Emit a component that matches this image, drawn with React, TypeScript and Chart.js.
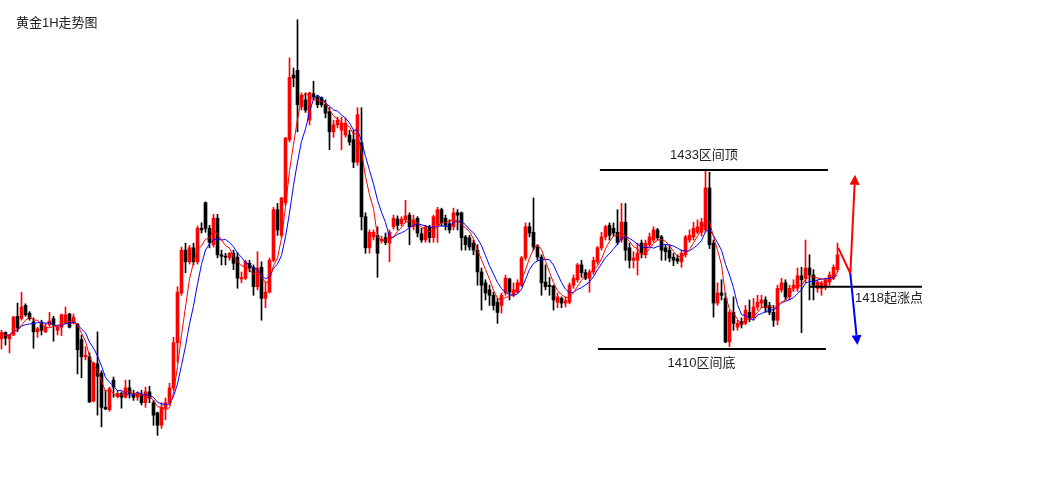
import React, { useEffect, useRef } from "react";
import { Chart, registerables } from "chart.js";

Chart.register(...registerables);

// Gold, 1-hour candles (oldest first)
const opens = [
  1411.3, 1412.1, 1411.3, 1411.8, 1414.2, 1413.9, 1415.6, 1414.6, 1413.5, 1412.2,
  1413.3, 1412.2, 1413.1, 1413.9, 1412.4, 1412.8, 1413.3, 1414.5, 1413.3, 1413.2,
  1411.2, 1409.0, 1409.0, 1403.3, 1408.1, 1406.9, 1402.5, 1402.2, 1406.0, 1403.9,
  1404.3, 1403.8, 1405.0, 1404.3, 1403.8, 1404.1, 1403.1, 1404.5, 1403.1, 1401.8,
  1400.2, 1402.4, 1403.1, 1405.0, 1410.8, 1417.2, 1422.7, 1421.2, 1423.0, 1421.2,
  1425.5, 1428.8, 1425.5, 1423.4, 1426.8, 1422.1, 1421.9, 1421.7, 1422.3, 1421.8,
  1419.0, 1419.1, 1421.0, 1420.5, 1418.0, 1420.5, 1416.5, 1417.3, 1421.4, 1427.9,
  1424.6, 1428.8, 1436.9, 1445.2, 1445.8, 1441.1, 1442.0, 1439.4, 1442.8, 1442.4,
  1442.3, 1441.4, 1440.5, 1437.9, 1438.8, 1438.1, 1437.5, 1437.5, 1436.9, 1434.0,
  1436.5, 1427.0, 1423.0, 1424.4, 1424.6, 1423.9, 1424.3, 1423.6, 1425.7, 1426.7,
  1426.1, 1426.6, 1427.2, 1425.7, 1426.8, 1424.8, 1424.0, 1425.7, 1424.3, 1425.9,
  1427.9, 1426.8, 1426.1, 1425.7, 1427.5, 1427.5, 1424.4, 1424.3, 1423.6, 1422.7,
  1419.9, 1418.5, 1417.6, 1416.9, 1416.0, 1415.6, 1417.2, 1419.0, 1416.9, 1417.3,
  1418.2, 1421.7, 1425.7, 1425.0, 1423.1, 1421.8, 1418.6, 1418.2, 1418.1, 1416.0,
  1416.5, 1415.9, 1416.0, 1418.2, 1418.9, 1420.8, 1419.8, 1419.1, 1419.9, 1421.2,
  1423.0, 1424.4, 1425.9, 1425.5, 1425.0, 1424.0, 1426.3, 1423.0, 1421.4, 1421.4,
  1423.6, 1422.1, 1423.4, 1424.0, 1425.3, 1424.4, 1423.0, 1422.7, 1421.8, 1421.6,
  1421.2, 1422.1, 1424.0, 1424.4, 1425.0, 1425.0, 1425.3, 1430.7, 1423.6, 1415.9,
  1417.2, 1416.5, 1410.9, 1414.7, 1412.8, 1413.5, 1413.3, 1414.7, 1414.0, 1415.4,
  1415.9, 1416.3, 1415.6, 1414.7, 1413.7, 1417.6, 1418.5, 1416.7, 1417.8, 1417.8,
  1419.4, 1419.1, 1420.4, 1419.5, 1417.8, 1417.8, 1418.0, 1418.6, 1419.1, 1420.2,
];

const highs = [
  1412.4, 1412.2, 1411.9, 1414.2, 1415.9, 1417.3, 1415.8, 1414.8, 1414.0, 1412.8,
  1413.7, 1413.3, 1414.7, 1414.2, 1413.1, 1414.5, 1415.4, 1414.6, 1414.5, 1413.3,
  1411.8, 1410.3, 1409.5, 1408.3, 1412.2, 1407.2, 1404.7, 1405.1, 1406.4, 1404.7,
  1404.5, 1406.0, 1406.0, 1404.7, 1404.5, 1404.7, 1405.1, 1405.2, 1403.4, 1401.9,
  1403.1, 1403.7, 1405.6, 1411.5, 1418.0, 1423.1, 1423.6, 1423.3, 1423.6, 1425.8,
  1426.2, 1428.9, 1425.9, 1427.3, 1427.3, 1422.7, 1422.3, 1422.4, 1422.7, 1422.4,
  1419.9, 1421.4, 1421.4, 1420.8, 1422.5, 1421.2, 1418.6, 1421.7, 1428.2, 1428.7,
  1429.5, 1437.2, 1447.4, 1446.1, 1452.3, 1442.9, 1442.9, 1443.0, 1444.4, 1442.6,
  1442.4, 1442.0, 1441.0, 1439.4, 1439.8, 1439.8, 1439.7, 1438.1, 1438.1, 1441.0,
  1441.0, 1427.5, 1425.3, 1425.3, 1425.7, 1424.5, 1424.9, 1425.3, 1427.2, 1427.1,
  1427.0, 1429.1, 1427.5, 1427.2, 1427.0, 1425.5, 1425.9, 1425.9, 1427.2, 1428.2,
  1428.1, 1427.2, 1426.6, 1428.1, 1427.9, 1427.6, 1424.6, 1424.6, 1424.0, 1423.4,
  1420.4, 1418.9, 1418.2, 1417.3, 1416.5, 1417.2, 1419.5, 1419.1, 1418.5, 1418.9,
  1421.9, 1426.2, 1426.2, 1429.4, 1423.4, 1422.1, 1420.8, 1419.2, 1418.2, 1417.2,
  1416.7, 1416.7, 1418.5, 1419.5, 1421.0, 1421.4, 1420.2, 1420.2, 1421.8, 1423.2,
  1425.0, 1425.9, 1426.2, 1426.2, 1427.9, 1428.7, 1428.7, 1423.6, 1422.5, 1423.6,
  1424.0, 1424.0, 1424.9, 1425.7, 1425.5, 1424.6, 1423.4, 1423.4, 1422.3, 1422.1,
  1422.7, 1424.6, 1425.3, 1426.3, 1426.6, 1426.8, 1433.0, 1432.7, 1424.0, 1418.5,
  1418.9, 1417.2, 1415.0, 1416.7, 1413.7, 1414.0, 1415.6, 1416.3, 1416.5, 1416.9,
  1416.9, 1416.7, 1416.0, 1415.6, 1418.2, 1419.1, 1418.9, 1418.2, 1418.9, 1420.4,
  1420.5, 1424.0, 1422.1, 1420.2, 1418.9, 1418.7, 1419.1, 1419.9, 1420.8, 1423.6,
];

const lows = [
  1410.0, 1410.5, 1409.5, 1411.7, 1412.2, 1413.7, 1414.2, 1413.7, 1410.1, 1411.5,
  1411.8, 1412.1, 1412.9, 1411.0, 1411.8, 1411.7, 1413.2, 1412.7, 1413.2, 1406.8,
  1406.3, 1408.6, 1403.1, 1403.2, 1401.5, 1400.0, 1402.2, 1402.0, 1403.8, 1403.7,
  1402.4, 1403.7, 1403.7, 1403.4, 1403.4, 1402.8, 1402.5, 1403.1, 1400.2, 1398.9,
  1399.8, 1400.9, 1402.8, 1404.7, 1408.3, 1416.9, 1419.8, 1420.9, 1420.8, 1420.9,
  1424.9, 1425.0, 1423.0, 1423.1, 1421.7, 1420.8, 1420.8, 1421.4, 1420.2, 1417.8,
  1418.5, 1418.9, 1419.9, 1416.9, 1417.6, 1413.7, 1415.3, 1417.2, 1421.2, 1424.6,
  1424.3, 1428.5, 1436.6, 1443.7, 1437.9, 1440.7, 1440.4, 1438.8, 1442.0, 1441.0,
  1441.1, 1439.7, 1435.6, 1437.2, 1438.4, 1435.6, 1437.2, 1436.2, 1433.3, 1433.6,
  1425.3, 1422.3, 1422.3, 1424.0, 1419.2, 1423.6, 1423.4, 1421.2, 1425.4, 1425.3,
  1425.8, 1426.3, 1423.4, 1425.3, 1424.4, 1423.7, 1423.7, 1423.7, 1423.7, 1423.7,
  1425.8, 1425.3, 1424.9, 1425.3, 1425.3, 1422.7, 1422.7, 1422.7, 1422.1, 1418.2,
  1415.0, 1416.3, 1415.6, 1415.0, 1413.3, 1414.6, 1416.9, 1416.3, 1416.7, 1417.2,
  1418.0, 1421.4, 1424.4, 1422.7, 1421.4, 1416.9, 1417.6, 1416.9, 1415.0, 1415.3,
  1415.3, 1415.4, 1415.8, 1417.8, 1418.6, 1419.2, 1418.9, 1417.3, 1419.6, 1420.9,
  1422.7, 1424.0, 1424.0, 1424.5, 1423.4, 1423.7, 1421.4, 1420.4, 1420.4, 1419.5,
  1421.7, 1421.7, 1423.1, 1423.7, 1424.0, 1421.4, 1421.4, 1421.2, 1420.7, 1421.0,
  1420.5, 1421.8, 1423.7, 1424.0, 1424.8, 1424.5, 1425.0, 1422.9, 1414.1, 1415.6,
  1416.3, 1410.8, 1410.3, 1412.4, 1412.4, 1412.7, 1413.1, 1413.5, 1413.7, 1415.0,
  1415.3, 1414.7, 1414.4, 1412.9, 1413.1, 1417.3, 1416.3, 1416.3, 1417.4, 1417.4,
  1412.1, 1418.5, 1416.3, 1416.3, 1417.3, 1416.9, 1417.6, 1418.2, 1418.9, 1419.9,
];

const closes = [
  1412.1, 1411.4, 1411.8, 1414.1, 1412.7, 1415.4, 1414.4, 1413.9, 1412.2, 1412.6,
  1412.4, 1412.8, 1413.6, 1413.1, 1412.8, 1414.4, 1414.4, 1412.8, 1414.1, 1409.9,
  1409.0, 1409.2, 1403.2, 1408.2, 1406.5, 1402.5, 1402.3, 1404.9, 1405.1, 1404.3,
  1403.8, 1405.0, 1404.3, 1403.8, 1404.3, 1403.1, 1404.5, 1403.7, 1401.5, 1400.2,
  1402.5, 1403.1, 1405.0, 1410.8, 1417.3, 1422.7, 1421.2, 1423.0, 1421.2, 1425.5,
  1425.3, 1425.5, 1423.7, 1426.8, 1422.1, 1421.9, 1421.8, 1422.3, 1421.0, 1419.1,
  1419.2, 1421.2, 1420.4, 1418.0, 1420.4, 1416.5, 1417.3, 1421.4, 1427.9, 1425.3,
  1429.4, 1437.1, 1444.9, 1444.8, 1441.4, 1442.6, 1440.7, 1442.9, 1442.4, 1441.4,
  1441.4, 1440.3, 1437.9, 1438.8, 1439.4, 1439.0, 1439.0, 1436.6, 1434.0, 1440.1,
  1427.0, 1423.0, 1425.0, 1425.0, 1422.3, 1424.1, 1423.7, 1425.0, 1426.8, 1425.9,
  1426.7, 1427.1, 1425.7, 1426.6, 1424.9, 1424.0, 1425.7, 1424.3, 1427.0, 1427.9,
  1426.2, 1425.9, 1425.3, 1427.5, 1427.2, 1424.3, 1423.4, 1423.1, 1422.7, 1419.9,
  1418.2, 1417.2, 1416.9, 1415.6, 1414.7, 1416.9, 1419.1, 1417.3, 1417.6, 1418.5,
  1421.7, 1425.7, 1424.9, 1423.1, 1421.8, 1418.5, 1418.0, 1418.0, 1416.3, 1416.7,
  1415.9, 1416.2, 1418.2, 1419.1, 1420.8, 1419.8, 1419.1, 1419.9, 1421.4, 1423.0,
  1424.4, 1425.7, 1424.6, 1424.9, 1423.7, 1426.3, 1422.7, 1421.4, 1421.7, 1422.3,
  1422.3, 1423.6, 1424.4, 1425.3, 1424.3, 1422.7, 1422.5, 1421.7, 1421.4, 1421.3,
  1422.3, 1424.4, 1424.6, 1425.5, 1425.7, 1426.3, 1430.7, 1423.4, 1415.9, 1417.2,
  1416.9, 1410.9, 1414.7, 1413.3, 1413.3, 1413.1, 1415.0, 1414.0, 1415.4, 1416.0,
  1416.3, 1415.3, 1414.7, 1413.7, 1417.8, 1418.5, 1416.7, 1417.8, 1418.2, 1419.4,
  1418.9, 1420.4, 1419.5, 1418.2, 1418.6, 1418.5, 1418.9, 1419.5, 1420.5, 1422.1,
];

const TITLE = "黄金1H走势图";

// Support / resistance levels and their captions
const levelPrices = [1433, 1410, 1418];
const levelLabels = ["1433区间顶", "1410区间底", "1418起涨点"];

// Projected paths from the last candle: rebound then rally, or breakdown
const bullPath = [
  { x: 209.2, y: 1423.0 },
  { x: 212.2, y: 1419.7 },
  { x: 213.4, y: 1432.4 },
];
const bearPath = [
  { x: 212.2, y: 1419.7 },
  { x: 214.0, y: 1410.5 },
];

// ---- layout / style ----
const W = 1056;
const H = 488;
const UP = "#ff0000";
const DOWN = "#000000";
const FONT = '13px "Liberation Sans", "Noto Sans CJK SC", sans-serif';
const TEXT = "#222222";

// horizontal extent of each level line (candle index units) and caption anchor
const levelLayout = [
  { from: 149.6, to: 206.6, labelX: 175.6, dy: -15, align: "center" as CanvasTextAlign },
  { from: 149.1, to: 206.1, labelX: 175.0, dy: 14, align: "center" as CanvasTextAlign },
  { from: 202.1, to: 230.1, labelX: 213.4, dy: 12, align: "left" as CanvasTextAlign },
];

function movingAverage(values: number[], period: number): number[] {
  return values.map((_, i) => {
    const from = Math.max(0, i - period + 1);
    const win = values.slice(from, i + 1);
    return win.reduce((s, v) => s + v, 0) / win.length;
  });
}

function drawArrow(ctx: CanvasRenderingContext2D, pts: number[][], color: string) {
  const head = 10;
  const half = 5;
  const n = pts.length;
  const [tx, ty] = pts[n - 1];
  const [px, py] = pts[n - 2];
  const len = Math.hypot(tx - px, ty - py);
  const ux = (tx - px) / len;
  const uy = (ty - py) / len;
  const bx = tx - ux * head;
  const by = ty - uy * head;

  ctx.strokeStyle = color;
  ctx.fillStyle = color;
  ctx.lineWidth = 2;
  ctx.lineJoin = "miter";
  ctx.beginPath();
  ctx.moveTo(pts[0][0], pts[0][1]);
  for (let i = 1; i < n - 1; i++) ctx.lineTo(pts[i][0], pts[i][1]);
  ctx.lineTo(bx, by);
  ctx.stroke();

  ctx.beginPath();
  ctx.moveTo(tx, ty);
  ctx.lineTo(bx - uy * half, by + ux * half);
  ctx.lineTo(bx + uy * half, by - ux * half);
  ctx.closePath();
  ctx.fill();
}

const overlayPlugin = {
  id: "overlay",
  afterDatasetsDraw(chart: any) {
    const { ctx } = chart;
    const xs = chart.scales.x;
    const ys = chart.scales.y;
    ctx.save();

    ctx.font = FONT;
    ctx.fillStyle = TEXT;
    ctx.textBaseline = "middle";
    ctx.textAlign = "left";
    ctx.fillText(TITLE, 16, 23);

    levelPrices.forEach((price, i) => {
      const lay = levelLayout[i];
      const py = ys.getPixelForValue(price);
      ctx.strokeStyle = "#000000";
      ctx.lineWidth = 2;
      ctx.beginPath();
      ctx.moveTo(xs.getPixelForValue(lay.from), py);
      ctx.lineTo(xs.getPixelForValue(lay.to), py);
      ctx.stroke();
      ctx.fillStyle = TEXT;
      ctx.textAlign = lay.align;
      ctx.fillText(levelLabels[i], xs.getPixelForValue(lay.labelX), py + lay.dy);
    });

    const toPx = (p: { x: number; y: number }) => [xs.getPixelForValue(p.x), ys.getPixelForValue(p.y)];
    drawArrow(ctx, bullPath.map(toPx), UP);
    drawArrow(ctx, bearPath.map(toPx), "#0000ff");

    ctx.restore();
  },
};

export default function App() {
  const canvasRef = useRef<HTMLCanvasElement | null>(null);

  useEffect(() => {
    const canvas = canvasRef.current;
    if (!canvas) return;

    const idx = closes.map((_, i) => i);
    const colors = idx.map((i) => (closes[i] >= opens[i] ? UP : DOWN));
    const ma5 = movingAverage(closes, 5);
    const ma8 = movingAverage(closes, 8);

    const chart = new Chart(canvas, {
      type: "bar",
      data: {
        datasets: [
          {
            type: "line",
            label: "MA5",
            data: idx.map((i) => ({ x: i, y: ma5[i] })),
            borderColor: "#ff0000",
            borderWidth: 1,
            pointRadius: 0,
            tension: 0,
            order: 0,
          },
          {
            type: "line",
            label: "MA8",
            data: idx.map((i) => ({ x: i, y: ma8[i] })),
            borderColor: "#0000ff",
            borderWidth: 1,
            pointRadius: 0,
            tension: 0,
            order: 1,
          },
          {
            type: "bar",
            label: "body",
            data: idx.map((i) => ({ x: i, y: [opens[i], closes[i]] })) as any,
            backgroundColor: colors,
            borderWidth: 0,
            barThickness: 3,
            minBarLength: 1,
            grouped: false,
            order: 2,
          },
          {
            type: "bar",
            label: "wick",
            data: idx.map((i) => ({ x: i, y: [lows[i], highs[i]] })) as any,
            backgroundColor: colors,
            borderWidth: 0,
            barThickness: 1,
            grouped: false,
            order: 3,
          },
        ] as any,
      },
      options: {
        responsive: false,
        maintainAspectRatio: false,
        devicePixelRatio: 1,
        animation: false,
        layout: { padding: 0 },
        plugins: {
          legend: { display: false },
          tooltip: { enabled: false },
        },
        scales: {
          x: {
            type: "linear",
            display: false,
            min: -0.375,
            max: 263.625,
            offset: false,
          },
          y: {
            type: "linear",
            display: false,
            min: 1392.14,
            max: 1454.84,
          },
        },
      },
      plugins: [overlayPlugin],
    });

    return () => chart.destroy();
  }, []);

  return (
    <div
      style={{
        position: "fixed",
        left: 0,
        top: 0,
        width: W,
        height: H,
        background: "#ffffff",
      }}
    >
      <canvas ref={canvasRef} width={W} height={H} style={{ display: "block" }} />
    </div>
  );
}
